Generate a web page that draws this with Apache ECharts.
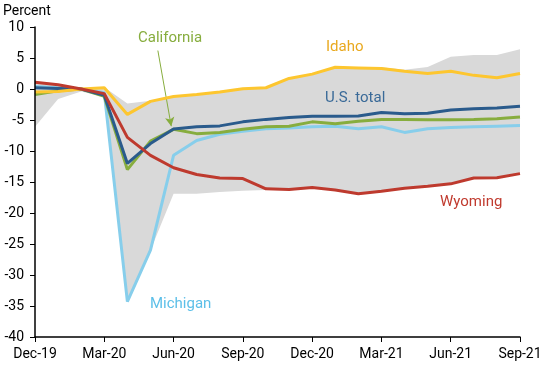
<!DOCTYPE html>
<html><head><meta charset="utf-8">
<script src="https://cdn.jsdelivr.net/npm/echarts@6/dist/echarts.min.js"></script>
<style>html,body{margin:0;padding:0;background:#fff}#c{width:550px;height:365px}</style>
</head><body><div id="c"></div>
<script>
const months = ['Dec-19','Jan-20','Feb-20','Mar-20','Apr-20','May-20','Jun-20','Jul-20','Aug-20','Sep-20','Oct-20','Nov-20','Dec-20','Jan-21','Feb-21','Mar-21','Apr-21','May-21','Jun-21','Jul-21','Aug-21','Sep-21'];
const idaho      = [-0.5,-0.4,0,0.2,-4.1,-2.0,-1.2,-0.9,-0.5,0.05,0.2,1.7,2.4,3.5,3.4,3.3,2.85,2.5,2.85,2.2,1.8,2.5];
const usTotal    = [0.2,0.1,0,-1.0,-12.0,-8.8,-6.45,-6.1,-5.95,-5.3,-4.9,-4.6,-4.4,-4.4,-4.35,-3.8,-4.0,-3.9,-3.4,-3.2,-3.05,-2.8];
const california = [-0.9,-0.3,0,-1.2,-13.0,-8.4,-6.5,-7.2,-7.0,-6.5,-6.1,-6.0,-5.3,-5.6,-5.2,-4.9,-4.9,-4.95,-4.95,-4.9,-4.8,-4.5];
const michigan   = [0.4,0.2,0,-0.6,-34.3,-26.0,-10.7,-8.3,-7.3,-6.8,-6.4,-6.3,-6.1,-6.0,-6.4,-6.1,-7.0,-6.4,-6.2,-6.1,-6.0,-5.9];
const wyoming    = [1.1,0.7,0,-0.75,-7.8,-10.7,-12.7,-13.8,-14.35,-14.45,-16.1,-16.2,-15.9,-16.3,-16.9,-16.5,-16.0,-15.7,-15.3,-14.35,-14.3,-13.65];
const bandUpper  = [1.1,0.7,0.1,0.3,-2.35,-1.9,-1.2,-0.9,-0.5,0.05,0.2,1.7,2.4,3.5,3.4,3.5,3.1,3.55,5.2,5.5,5.5,6.4];
const bandLower  = [-6.1,-1.6,-0.4,-1.3,-34.3,-26.0,-16.9,-16.9,-16.6,-16.4,-16.3,-16.2,-15.9,-16.3,-16.9,-16.5,-16.0,-15.7,-15.3,-14.35,-14.3,-13.65];
const yTicks = {min:-40, max:10, interval:5};
const arrowFrom = [5.32, 6.2], arrowTo = [5.9, -6.0];

const pts = arr => arr.map((v,i)=>[i,v]);
const FONT = 'Roboto';
function lineSeries(name, data, color, z){
  return {name, type:'line', data:pts(data), symbol:'none', z,
    lineStyle:{color, width:3}, emphasis:{disabled:true}, animation:false};
}
const chart = echarts.init(document.getElementById('c'), null, {renderer:'canvas'});
const series = [
  {name:'bandUpper', type:'line', data:pts(bandUpper), symbol:'none', z:1,
    lineStyle:{width:0, opacity:0}, areaStyle:{color:'#d9d9d9', opacity:1, origin:'start'}, animation:false, silent:true},
  {name:'bandLower', type:'line', data:pts(bandLower), symbol:'none', z:1.5,
    lineStyle:{width:0, opacity:0}, areaStyle:{color:'#ffffff', opacity:1, origin:'start'}, animation:false, silent:true},
  lineSeries('Michigan', michigan, '#87ceeb', 2),
  Object.assign(lineSeries('California', california, '#87ad3e', 3), {
    markLine:{silent:true, symbol:['none','arrow'], symbolSize:[7,9], animation:false,
      lineStyle:{color:'#87ad3e', width:1, type:'solid'}, label:{show:false},
      data:[[{coord:arrowFrom},{coord:arrowTo}]]}
  }),
  lineSeries('U.S. total', usTotal, '#2a5b8c', 4),
  lineSeries('Idaho', idaho, '#fdc62f', 5),
  lineSeries('Wyoming', wyoming, '#be3a2e', 6)
];
chart.setOption({
  animation:false,
  grid:{left:35, right:30, top:27, bottom:28, containLabel:false},
  xAxis:{type:'value', min:0, max:months.length-1, interval:3, z:10,
    axisLine:{show:true, onZero:false, lineStyle:{color:'#000', width:1.5}},
    axisTick:{show:true, length:5, lineStyle:{color:'#000'}},
    splitLine:{show:false},
    axisLabel:{color:'#000', fontFamily:FONT, fontSize:14, margin:10, formatter:v=>months[v]||''}},
  yAxis:{type:'value', min:yTicks.min, max:yTicks.max, interval:yTicks.interval, z:10,
    axisLine:{show:true, onZero:false, lineStyle:{color:'#000', width:1.5}},
    axisTick:{show:true, length:5, lineStyle:{color:'#000'}},
    splitLine:{show:false},
    axisLabel:{color:'#000', fontFamily:FONT, fontSize:14, margin:11}},
  series,
  graphic:[
    {type:'text', z:100, left:3, top:4, style:{text:'Percent', fill:'#000', font:'14px Roboto'}},
    {type:'text', z:100, left:138, top:31, style:{text:'California', fill:'#87ad3e', font:'15px Roboto'}},
    {type:'text', z:100, left:326, top:40, style:{text:'Idaho', fill:'#e9a91f', font:'15px Roboto'}},
    {type:'text', z:100, left:325, top:91, style:{text:'U.S. total', fill:'#3a6a98', font:'15px Roboto'}},
    {type:'text', z:100, left:440, top:195, style:{text:'Wyoming', fill:'#c03a2e', font:'15px Roboto'}},
    {type:'text', z:100, left:150, top:297, style:{text:'Michigan', fill:'#5cbfe8', font:'15px Roboto'}}
  ]
});
</script></body></html>
